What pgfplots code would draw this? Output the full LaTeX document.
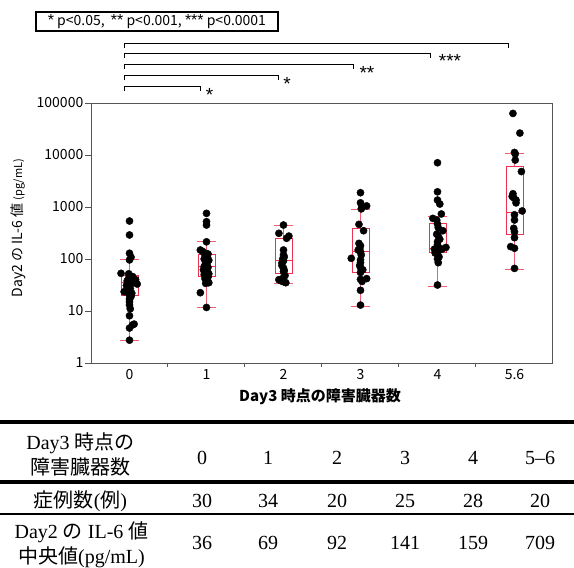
\documentclass[border=0pt]{standalone}
\usepackage{fontspec}
\usepackage{pgfplots}
\pgfplotsset{compat=1.18}
\setmainfont{Liberation Serif}
\newfontfamily\jp{Noto Sans CJK JP}
\newfontfamily\ar{Liberation Sans}

\definecolor{boxred}{RGB}{232,52,78}
\definecolor{whisk}{RGB}{238,95,115}
\definecolor{axgray}{RGB}{85,85,85}

\newcommand{\st}[1]{{\ar\fontsize{16}{16}\selectfont #1}}

\pgfplotsset{
  dots/.style={only marks, mark=*, mark size=3.6pt, black},
  bx/.style={boxred, line width=0.9pt, mark=none, unbounded coords=jump},
  wh/.style={whisk, line width=0.9pt, mark=none, unbounded coords=jump},
}

\begin{document}
\begin{tikzpicture}
\useasboundingbox (0,0) rectangle (574pt,-568pt);

% significance key
\node[draw=black, line width=1.8pt, anchor=north west, minimum width=242pt,
  minimum height=19pt, inner xsep=1.5pt, inner ysep=0pt, align=left,
  font=\jp\fontsize{14}{16}\selectfont] at (35pt,-11pt)
  {\st{*} p<0.05,\ \ \st{**} p<0.001, \st{***} p<0.0001};

% brackets
\draw[line width=0.9pt] (124pt,-48pt) -- (124pt,-43pt) -- (508pt,-43pt) -- (508pt,-48pt);
\draw[line width=0.9pt] (124pt,-58pt) -- (124pt,-53pt) -- (430pt,-53pt) -- (430pt,-58pt);
\draw[line width=0.9pt] (124pt,-69pt) -- (124pt,-64pt) -- (353pt,-64pt) -- (353pt,-69pt);
\draw[line width=0.9pt] (124pt,-80pt) -- (124pt,-75pt) -- (278pt,-75pt) -- (278pt,-80pt);
\draw[line width=0.9pt] (124pt,-91pt) -- (124pt,-86pt) -- (200pt,-86pt) -- (200pt,-91pt);
\begin{scope}[every node/.style={anchor=base, inner sep=0pt, font=\ar\fontsize{19}{21}\selectfont}]
\node at (209.5pt,-101pt) {*};
\node at (287pt,-90pt) {*};
\node at (367pt,-79pt) {**};
\node at (450pt,-67.5pt) {***};
\end{scope}

\begin{axis}[
  at={(91pt,-103pt)}, anchor=north west,
  width=462pt, height=260pt, scale only axis,
  ymode=log, ymin=1, ymax=100000,
  xmin=-0.5, xmax=5.5,
  xtick={0,1,2,3,4,5}, xticklabels={0,1,2,3,4,5.6},
  minor xtick={0.5,1.5,2.5,3.5,4.5},
  ytick={1,10,100,1000,10000,100000},
  yticklabels={1,10,100,1000,10000,100000},
  yminorticks=false,
  tick pos=left, tick align=outside,
  major tick length=6pt, minor tick length=4pt,
  major x tick style={draw=none},
  axis line style={axgray, line width=1pt},
  every tick/.style={axgray, line width=1pt},
  tick label style={font=\jp\fontsize{14}{16}\selectfont},
  xticklabel style={yshift=3pt},
  yticklabel style={inner xsep=1.5pt},
  clip=false,
]
% group 0
\addplot[dots] coordinates {
(0.00,537) (0.00,290) (0.00,129) (0.02,108) (0.00,96) (-0.11,53) (-0.01,52)
(0.04,46) (0.08,40) (0.10,33) (0.05,35) (-0.03,38) (0.00,30) (-0.07,23.5)
(-0.02,23) (0.03,22) (0.00,20) (0.01,27) (-0.01,43) (0.02,19) (0.00,17)
(0.00,15) (0.00,13) (0.01,11) (0.00,8.1) (0.06,5.6) (0.04,5.4) (0.00,4.7)
(0.00,2.75) (-0.04,31)};
% group 1
\addplot[dots] coordinates {
(1.00,755) (1.00,522) (1.00,450) (1.00,214) (0.92,149) (0.95,140) (0.98,120)
(1.01,110) (0.97,100) (1.03,95) (0.99,88) (1.00,80) (0.98,75) (1.02,69)
(1.00,66) (0.96,62) (1.01,58) (0.99,55) (1.03,52) (0.97,50) (1.00,48)
(1.02,45) (0.98,42) (1.01,40) (1.00,38) (1.03,35) (0.99,34) (0.92,22.5)
(1.00,11.7) (0.98,130) (1.02,125) (1.00,105) (0.97,72) (1.01,85)};
% group 2
\addplot[dots] coordinates {
(2.00,450) (1.94,312) (2.07,276) (2.04,250) (2.00,149) (2.00,120) (1.98,84)
(2.00,67) (2.00,57) (1.94,40) (2.00,36.6) (2.03,35) (1.99,100) (2.01,110)
(2.00,92) (1.98,75) (2.02,48) (2.00,44) (1.97,38) (2.01,60)};
% group 3
\addplot[dots] coordinates {
(3.00,1884) (3.00,1204) (3.08,1049) (3.02,1000) (3.01,920) (2.98,464)
(3.04,350) (2.98,200) (3.00,180) (2.97,149) (2.88,103) (3.00,96) (3.00,85)
(3.00,69) (3.03,62) (3.00,40.6) (3.08,42) (3.02,37) (3.00,25) (3.00,13)
(3.00,138) (2.99,160) (3.01,120) (3.00,55) (2.99,75)};
% group 4
\addplot[dots] coordinates {
(4.00,7100) (4.00,1960) (4.00,1360) (4.03,1140) (4.05,735) (3.94,605)
(3.99,560) (4.00,470) (4.07,350) (4.01,276) (4.00,214) (4.11,167) (3.96,155)
(4.00,155) (4.06,155) (4.00,125) (4.01,85) (4.00,31.6) (3.98,150) (4.02,160)
(4.00,140) (4.03,240) (3.99,300) (4.01,400) (4.00,190) (3.97,130) (4.02,110)
(4.00,100)};
% group 5-6
\addplot[dots] coordinates {
(4.98,63000) (5.07,26400) (5.00,11200) (5.01,8000) (5.09,4800) (4.97,1600)
(4.99,1500) (5.02,1360) (5.10,840) (5.00,709) (5.00,562) (4.99,390)
(5.00,333) (5.00,257) (4.95,173) (5.00,161) (5.00,66) (5.02,1200)
(4.98,1800) (5.01,10500)};

% whiskers and caps
\addplot[wh] coordinates {
(0,49) (0,96) (0,nan) (-0.12,96) (0.12,96) (0,nan) (0,19.6) (0,2.7) (0,nan) (-0.12,2.7) (0.12,2.7) (0,nan)
(1,125) (1,214) (1,nan) (0.88,214) (1.12,214) (1,nan) (1,47) (1,11.5) (1,nan) (0.88,11.5) (1.12,11.5) (1,nan)
(2,250) (2,437) (2,nan) (1.88,437) (2.12,437) (2,nan) (2,53) (2,34) (2,nan) (1.88,34) (2.12,34) (2,nan)
(3,388) (3,904) (3,nan) (2.88,904) (3.12,904) (3,nan) (3,56) (3,12.5) (3,nan) (2.88,12.5) (3.12,12.5) (3,nan)
(4,484) (4,670) (4,nan) (3.88,670) (4.12,670) (4,nan) (4,132) (4,30) (4,nan) (3.88,30) (4.12,30) (4,nan)
(5,6150) (5,10500) (5,nan) (4.88,10500) (5.12,10500) (5,nan) (5,302) (5,64) (5,nan) (4.88,64) (5.12,64)};
% boxes and medians
\addplot[bx] coordinates {
(-0.11,19.6) (0.11,19.6) (0.11,49) (-0.11,49) (-0.11,19.6) (0,nan) (-0.11,35) (0.11,35) (0,nan)
(0.89,47) (1.11,47) (1.11,125) (0.89,125) (0.89,47) (1,nan) (0.89,72) (1.11,72) (1,nan)
(1.89,53) (2.11,53) (2.11,250) (1.89,250) (1.89,53) (2,nan) (1.89,92) (2.11,92) (2,nan)
(2.89,56) (3.11,56) (3.11,388) (2.89,388) (2.89,56) (3,nan) (2.89,141) (3.11,141) (3,nan)
(3.89,132) (4.11,132) (4.11,484) (3.89,484) (3.89,132) (4,nan) (3.89,159) (4.11,159) (4,nan)
(4.89,302) (5.11,302) (5.11,6150) (4.89,6150) (4.89,302) (5,nan) (4.89,780) (5.11,780)};
\end{axis}

% axis titles
\node[font=\jp\bfseries\fontsize{15}{17}\selectfont] at (320pt,-397pt) {Day3 時点の障害臓器数};
\node[rotate=90, font=\jp\fontsize{14}{16}\selectfont] at (18pt,-228pt)
  {Day2 の IL-6 値 {\fontsize{11}{13}\selectfont (pg/mL)}};

% table
\draw[line width=3.2pt] (0pt,-422pt) -- (574pt,-422pt);
\draw[line width=3.2pt] (0pt,-482pt) -- (574pt,-482pt);
\draw[line width=1.8pt] (0pt,-514pt) -- (574pt,-514pt);
\begin{scope}[every node/.style={inner sep=0pt, font=\fontsize{20}{25}\selectfont, align=center}]
\node at (80.5pt,-454.5pt) {Day3 {\jp 時点の}\\{\jp 障害臓器数}};
\node at (80.5pt,-501pt) {{\jp 症例数}({\jp 例})};
\node at (81.5pt,-544.5pt) {Day2 {\jp の} IL-6 {\jp 値}\\{\jp 中央値}(pg/mL)};
\foreach \x/\a/\b/\c in {202/0/30/36, 268/1/34/69, 337/2/20/92, 405/3/25/141, 473/4/28/159, 540/5--6/20/709} {
  \node at (\x pt,-458pt) {\a};
  \node at (\x pt,-501pt) {\b};
  \node at (\x pt,-543pt) {\c};
}
\end{scope}
\end{tikzpicture}
\end{document}
